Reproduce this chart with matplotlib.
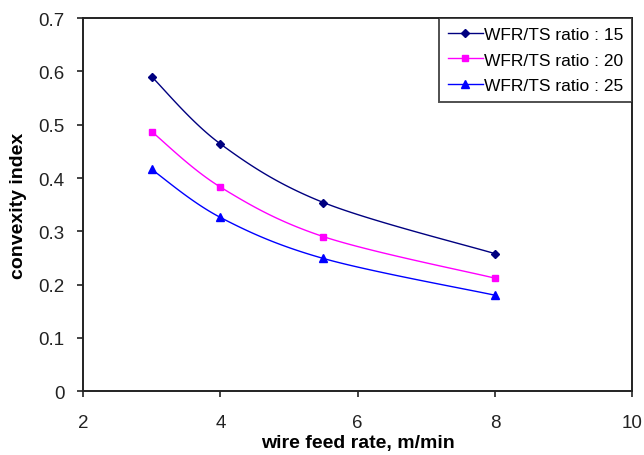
import numpy as np
import matplotlib.pyplot as plt

plt.rcParams['font.family'] = ['Liberation Sans', 'DejaVu Sans']

wire_feed = [3, 4, 5.5, 8]
ratio_15 = [0.590, 0.464, 0.354, 0.258]
ratio_20 = [0.487, 0.383, 0.290, 0.212]
ratio_25 = [0.416, 0.326, 0.249, 0.180]
labels = ['WFR/TS ratio : 15', 'WFR/TS ratio : 20', 'WFR/TS ratio : 25']


def smooth(x, y, n=30):
    # catmull-rom style curve through the points, like a spreadsheet's smoothed line
    x = np.asarray(x, float)
    y = np.asarray(y, float)
    px = np.concatenate([[x[0]], x, [x[-1]]])
    py = np.concatenate([[y[0]], y, [y[-1]]])
    xs, ys = [], []
    for i in range(1, len(px) - 2):
        t = np.linspace(0, 1, n)
        for p, out in ((px, xs), (py, ys)):
            p0, p1, p2, p3 = p[i - 1], p[i], p[i + 1], p[i + 2]
            c1 = p1 + (p2 - p0) / 6
            c2 = p2 - (p3 - p1) / 6
            out.extend((1 - t) ** 3 * p1 + 3 * (1 - t) ** 2 * t * c1
                       + 3 * (1 - t) * t ** 2 * c2 + t ** 3 * p2)
    return xs, ys


fig = plt.figure(figsize=(6.44, 4.56), dpi=100)
ax = fig.add_axes([0.129, 0.140, 0.853, 0.818])

series = [(ratio_15, '#000080', 'D', 4.5),
          (ratio_20, '#ff00ff', 's', 5),
          (ratio_25, '#0000ff', '^', 6)]
handles = []
for (vals, col, mk, ms), lab in zip(series, labels):
    sx, sy = smooth(wire_feed, vals)
    ax.plot(sx, sy, color=col, lw=1.0)
    ax.plot(wire_feed, vals, ls='none', marker=mk, color=col, ms=ms)
    h, = ax.plot([], [], color=col, lw=1.0, marker=mk, ms=ms, label=lab)
    handles.append(h)

ax.set_xlim(2, 10)
ax.set_ylim(0, 0.7)
ax.set_xticks([2, 4, 6, 8, 10])
ax.set_yticks(np.arange(0, 0.71, 0.1))
ax.set_yticklabels(['0', '0.1', '0.2', '0.3', '0.4', '0.5', '0.6', '0.7'])
ax.tick_params(direction='out', length=4.5, width=1.2, labelsize=13.5, colors='#222222')
ax.tick_params(axis='y', pad=9)
ax.tick_params(axis='x', pad=12)
for s in ax.spines.values():
    s.set_linewidth(1.4)
    s.set_color('#222222')

ax.set_xlabel('wire feed rate, m/min', fontsize=14, fontweight='bold', labelpad=2)
ax.set_ylabel('convexity index', fontsize=14, fontweight='bold', labelpad=8)

leg = ax.legend(handles=handles, loc='upper right', bbox_to_anchor=(1.0, 1.0),
                borderaxespad=0, fontsize=12.5, frameon=True, fancybox=False,
                edgecolor='#222222', handlelength=2.0, handletextpad=0.1,
                borderpad=0.5, labelspacing=0.6)
leg.get_frame().set_linewidth(1.4)

fig.savefig('out.png', dpi=100)
